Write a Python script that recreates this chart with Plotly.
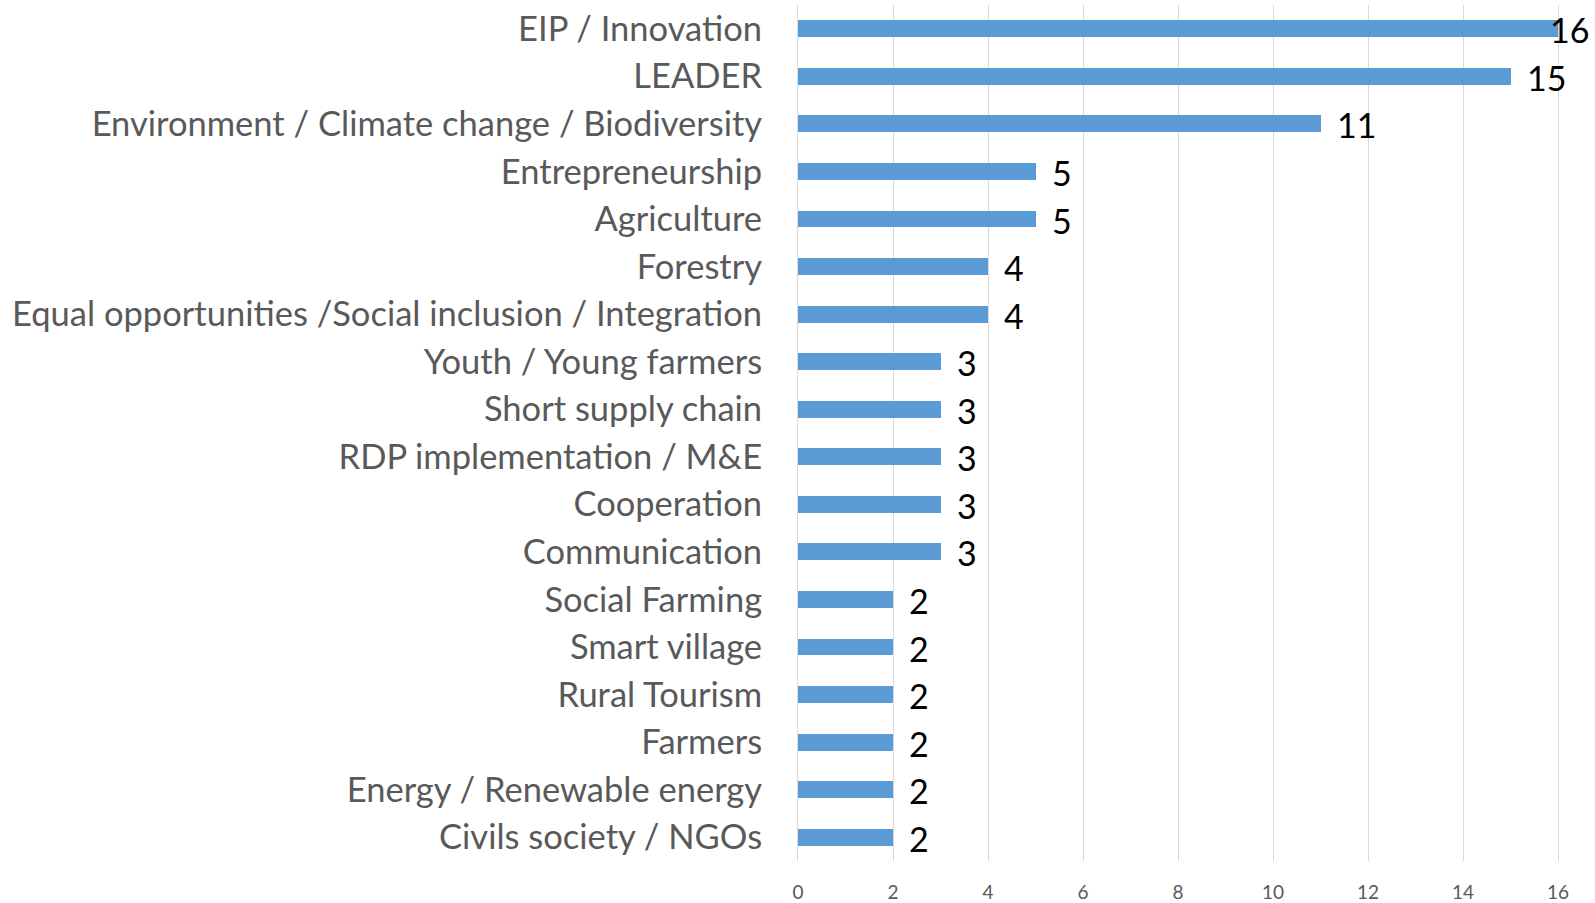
import plotly.graph_objects as go

categories = [
    "EIP / Innovation",
    "LEADER",
    "Environment / Climate change / Biodiversity",
    "Entrepreneurship",
    "Agriculture",
    "Forestry",
    "Equal opportunities /Social inclusion / Integration",
    "Youth / Young farmers",
    "Short supply chain",
    "RDP implementation / M&E",
    "Cooperation",
    "Communication",
    "Social Farming",
    "Smart village",
    "Rural Tourism",
    "Farmers",
    "Energy / Renewable energy",
    "Civils society / NGOs",
]
values = [16, 15, 11, 5, 5, 4, 4, 3, 3, 3, 3, 3, 2, 2, 2, 2, 2, 2]
x_ticks = [0, 2, 4, 6, 8, 10, 12, 14, 16]

FONT = "Lato"
GREY = "#595959"
GRID = "#D9D9D9"

fig = go.Figure()
fig.add_trace(go.Bar(
    x=values,
    y=categories,
    orientation="h",
    marker=dict(color="#5B9BD5", line=dict(width=0)),
    width=0.355,
    hoverinfo="x+y",
))

vmax = max(x_ticks)
for c, v in zip(categories, values):
    fig.add_annotation(
        x=v, y=c, xref="x", yref="y",
        text=str(v), showarrow=False,
        xanchor="left", yanchor="middle",
        xshift=(14 if v < vmax else -10), yshift=-1,
        font=dict(family=FONT, size=34, color="#000000"),
    )

fig.update_layout(
    width=1595, height=903,
    margin=dict(l=798, r=37, t=5, b=42, autoexpand=False),
    paper_bgcolor="white",
    plot_bgcolor="white",
    showlegend=False,
    bargap=0,
)
fig.update_xaxes(
    range=[0, 16],
    tickvals=x_ticks,
    ticktext=[str(t) for t in x_ticks],
    showgrid=True, gridcolor=GRID, gridwidth=1,
    zeroline=False, showline=False,
    ticks="", ticklabelstandoff=18,
    tickfont=dict(family=FONT, size=19, color=GREY),
    automargin=False,
    fixedrange=True,
)
fig.update_yaxes(
    range=[17.5, -0.5],
    categoryorder="array", categoryarray=categories,
    showgrid=False, zeroline=False,
    showline=True, linecolor=GRID, linewidth=1, mirror=True,
    ticks="", ticklabelstandoff=28,
    tickfont=dict(family=FONT, size=34.5, color=GREY),
    automargin=False,
    fixedrange=True,
)

fig.write_html("out.html")
